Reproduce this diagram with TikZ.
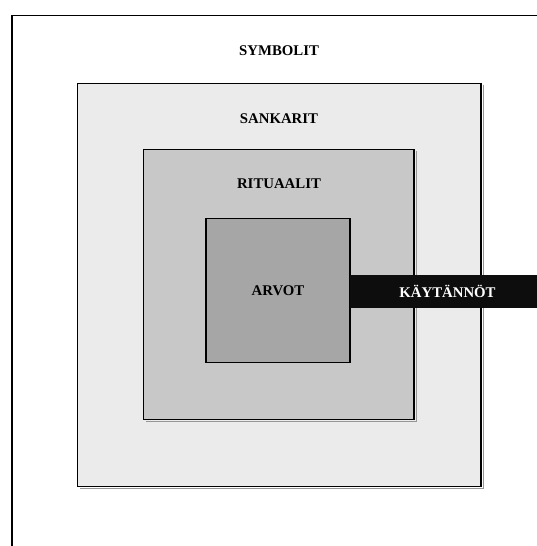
\documentclass[tikz,border=0pt]{standalone}
\usepackage{fontspec}
\setmainfont{Liberation Serif}
\begin{document}
\begin{tikzpicture}[x=1pt,y=-1pt,
  lvl/.style={draw=black,line width=1.8pt},
  shd/.style={draw={rgb,255:red,150;green,150;blue,150},line width=1pt},
  lbl/.style={font=\bfseries\fontsize{14.8}{16}\selectfont,inner sep=0pt,anchor=center}]
\useasboundingbox (0,0) rectangle (536,546);
\fill[white] (0,0) rectangle (536,546);
% outer frame (open to right and bottom)
\draw[line width=1.9pt] (12,547) -- (12,15.5) -- (537,15.5);
% nested boxes
\draw[shd] (483,85) -- (483,488.5) -- (79.5,488.5);
\draw[lvl,fill={rgb,255:red,235;green,235;blue,235}] (77.5,83.5) rectangle (481,486.5);
\draw[shd] (416,151) -- (416,421.5) -- (145.5,421.5);
\draw[lvl,fill={rgb,255:red,200;green,200;blue,200}] (143.5,149.5) rectangle (414,419.5);
\draw[lvl,fill={rgb,255:red,166;green,166;blue,166}] (206,218.5) rectangle (350,362.5);
% practices bar
\fill[fill={rgb,255:red,13;green,13;blue,13}] (350,274.5) rectangle (537,307.5);
% labels
\node[lbl] (sym) at (279,51) {SYMBOLIT};
\node[lbl] (san) at (279,119) {SANKARIT};
\node[lbl] (rit) at (279,184) {RITUAALIT};
\node[lbl] (arv) at (278,291) {ARVOT};
\node[lbl,text=white] (kay) at (447.5,291) {KÄYTÄNNÖT};
\end{tikzpicture}
\end{document}
